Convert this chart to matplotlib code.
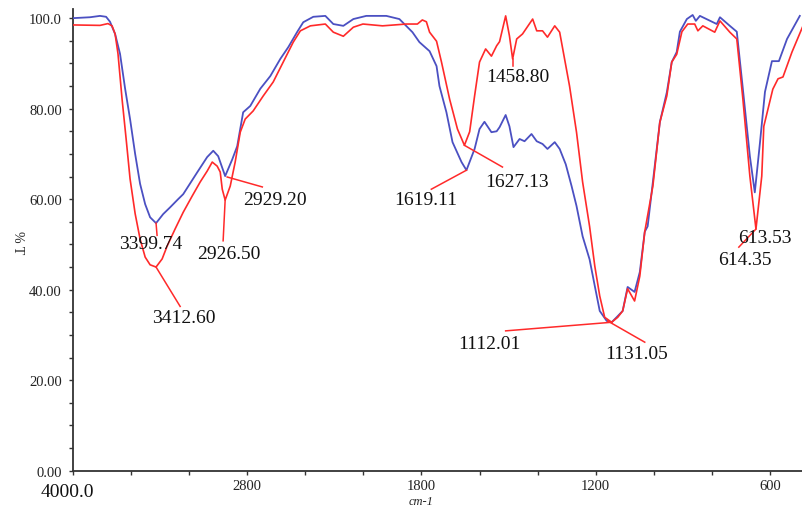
import numpy as np
import matplotlib
matplotlib.use("Agg")
import matplotlib.pyplot as plt

plt.rcParams['font.family'] = ['Liberation Serif', 'DejaVu Serif']

# blue spectrum (wavenumber cm-1, %T)
blue_wn = [4000, 3883, 3814, 3772, 3745, 3710, 3676, 3641, 3607, 3572, 3538, 3503, 3469, 3428,
           3379, 3331, 3276, 3241, 3145, 3076, 3034, 3000, 2952, 2903, 2869, 2828, 2779, 2710,
           2641, 2572, 2517, 2455, 2414, 2345, 2262, 2207, 2138, 2069, 1990, 1921, 1876, 1831,
           1807, 1772, 1748, 1738, 1714, 1693, 1662, 1645, 1617, 1600, 1583, 1559, 1541, 1531,
           1510, 1497, 1483, 1462, 1445, 1421, 1403, 1383, 1366, 1341, 1324, 1303, 1283, 1266,
           1245, 1221, 1203, 1186, 1162, 1145, 1128, 1107, 1090, 1066, 1048, 1031, 1021, 1003,
           979, 955, 938, 921, 910, 886, 866, 855, 841, 783, 772, 738, 714, 693, 669, 652,
           634, 617, 593, 569, 541, 497]
blue_t = [100.0, 100.2, 100.5, 100.3, 99.2, 96.5, 92.1, 84.4, 77.7, 70.0, 63.4, 58.9, 56.0, 54.7,
          56.7, 58.2, 60.0, 61.1, 65.9, 69.3, 70.7, 69.5, 65.1, 68.8, 71.7, 79.2, 80.6, 84.4,
          87.2, 91.0, 93.6, 97.0, 99.1, 100.3, 100.5, 98.7, 98.3, 99.8, 100.5, 100.5, 99.8, 96.9,
          94.7, 92.7, 89.4, 85.0, 79.2, 72.6, 68.2, 66.4, 71.1, 75.5, 77.1, 74.8, 75.0, 75.9,
          78.6, 76.1, 71.5, 73.3, 72.8, 74.4, 72.8, 72.2, 71.1, 72.6, 71.1, 67.7, 62.9, 58.5,
          51.8, 46.7, 40.8, 35.3, 33.1, 32.8, 33.9, 35.3, 40.6, 39.5, 43.9, 52.8, 54.0, 63.8,
          77.0, 83.6, 90.3, 92.5, 97.0, 99.8, 100.7, 99.4, 100.5, 98.7, 100.2, 98.3, 97.0, 84.3, 69.5, 61.5,
          72.6, 83.7, 90.5, 90.5, 95.4, 100.5]

# red spectrum
red_wn = [4000, 3814, 3759, 3731, 3710, 3690, 3662, 3634, 3607, 3572, 3538, 3503, 3469, 3428,
          3386, 3352, 3297, 3241, 3179, 3124, 3076, 3041, 3007, 2986, 2972, 2952, 2917, 2883,
          2848, 2814, 2759, 2690, 2621, 2552, 2483, 2434, 2365, 2262, 2207, 2138, 2069, 2003,
          1934, 1852, 1814, 1797, 1783, 1772, 1748, 1731, 1703, 1676, 1652, 1634, 1617, 1600,
          1579, 1559, 1541, 1531, 1510, 1497, 1486, 1472, 1452, 1417, 1403, 1383, 1366, 1341,
          1324, 1290, 1266, 1245, 1221, 1203, 1186, 1169, 1145, 1124, 1107, 1090, 1066, 1048,
          1031, 1003, 979, 955, 938, 921, 903, 883, 859, 848, 831, 790, 772, 738, 714, 693,
          669, 648, 628, 621, 590, 572, 555, 524, 486]
red_t = [98.5, 98.4, 98.8, 98.3, 96.5, 92.1, 82.1, 73.3, 64.5, 56.8, 51.2, 47.2, 45.5, 45.0,
         46.8, 49.6, 53.4, 57.1, 60.7, 63.8, 66.2, 68.2, 67.3, 66.0, 62.2, 59.8, 62.9, 68.2,
         74.8, 77.7, 79.5, 82.8, 85.9, 90.3, 94.7, 97.2, 98.3, 98.7, 96.9, 96.0, 98.0, 98.7,
         98.3, 98.7, 98.7, 99.6, 99.2, 96.9, 94.9, 90.3, 82.1, 75.5, 71.9, 74.9, 82.8, 90.3,
         93.2, 91.6, 93.9, 94.8, 100.5, 96.1, 91.0, 95.4, 96.5, 99.8, 97.2, 97.2, 95.8, 98.3,
         96.9, 85.0, 74.8, 63.8, 54.0, 45.2, 38.6, 33.9, 32.8, 33.9, 35.3, 40.2, 37.5, 43.0,
         52.8, 62.9, 77.0, 82.8, 90.3, 92.0, 97.0, 98.7, 98.7, 97.2, 98.3, 96.9, 99.4, 96.9, 95.4, 82.1,
         65.1, 53.4, 65.1, 76.1, 84.3, 86.6, 87.0, 92.5, 98.3]

# peak labels: text, leader start, leader end, text position
peak_labels = ["3399.74", "3412.60", "2929.20", "2926.50", "1619.11", "1627.13",
               "1458.80", "1112.01", "1131.05", "613.53", "614.35"]
lead_from = [(3428, 54.7), (3428, 45.0), (2938, 64.9), (2952, 59.8), (1645, 66.4), (1652, 71.9),
             (1486, 91.0), (1145, 32.8), (1159, 33.1), None, (648, 53.4)]
lead_to = [(3421, 52.0), (3262, 36.3), (2696, 62.7), (2966, 50.8), (1766, 62.2), (1521, 67.1),
           (1486, 89.4), (1510, 30.9), (1031, 28.4), None, (707, 49.4)]
label_pos = [(3465, 50.1), (3234, 33.9), (2607, 60.0), (2924, 47.9), (1786, 60.0), (1472, 63.8),
             (1469, 87.2), (1566, 28.0), (1059, 26.0), (617, 51.6), (686, 46.7)]

tick_pos = [4000, 3600, 3200, 2800, 2400, 2000, 1800, 1600, 1400, 1200, 1000, 800, 600]
tick_txt = ['', '', '', '2800', '', '', '1800', '', '', '1200', '', '', '600']


def fwd(x):
    x = np.asarray(x, dtype=float)
    return np.where(x > 2000, 2000 + (x - 2000) / 2.0, x)


def inv(u):
    u = np.asarray(u, dtype=float)
    return np.where(u > 2000, 2000 + (u - 2000) * 2.0, u)


fig = plt.figure(figsize=(8.03, 5.10), dpi=100)
ax = fig.add_axes([73 / 803, (510 - 471.7) / 510, 730 / 803, (471.7 - 10.1) / 510])
ax.set_xscale('function', functions=(fwd, inv))

ax.plot(blue_wn, blue_t, color='#4b50c2', lw=1.3, zorder=3)
ax.plot(red_wn, red_t, color='#ff2a2a', lw=1.2, zorder=3)

for i in range(len(peak_labels)):
    if lead_from[i] is not None:
        ax.plot([lead_from[i][0], lead_to[i][0]], [lead_from[i][1], lead_to[i][1]],
                color='#ff2a2a', lw=1.1, zorder=4)
    ax.text(label_pos[i][0], label_pos[i][1], peak_labels[i], fontsize=14,
            ha='center', va='center', color='#111111', zorder=5)

ax.set_xlim(4000, 486)
ax.set_ylim(0, 102)

ax.set_xticks(tick_pos)
ax.set_xticklabels(tick_txt, fontsize=10.5)
ax.set_yticks([0, 20, 40, 60, 80, 100])
ax.set_yticklabels(['0.00', '20.00', '40.00', '60.00', '80.00', '100.0'], fontsize=10.5)
ax.set_yticks(np.arange(0, 101, 5), minor=True)
ax.tick_params(axis='both', which='both', direction='out', length=3, width=1,
               color='#333333', labelcolor='#222222')
ax.tick_params(axis='x', pad=3)
ax.tick_params(axis='y', pad=5)

for s in ['top', 'right']:
    ax.spines[s].set_visible(False)
for s in ['left', 'bottom']:
    ax.spines[s].set_color('#333333')
    ax.spines[s].set_linewidth(1.3)

fig.text(67 / 803, 1 - 493 / 510, '4000.0', fontsize=14, ha='center', va='center', color='#111111')
fig.text(421 / 803, 1 - 502 / 510, 'cm-1', fontsize=9, style='italic', ha='center', va='center',
         color='#222222')
fig.text(18 / 803, 1 - 243 / 510, '% T', fontsize=10, rotation=270, ha='center', va='center',
         color='#222222')

fig.savefig('out.png', dpi=100)
